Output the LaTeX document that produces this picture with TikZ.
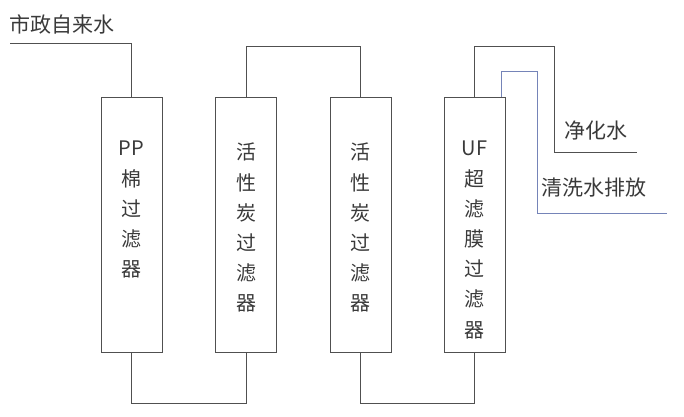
\documentclass[tikz,border=0pt]{standalone}
\usepackage{fontspec}
\setmainfont{Noto Sans CJK SC}
\begin{document}
\begin{tikzpicture}[x=1pt,y=-1pt,
  filterbox/.style={draw=pipegray,line width=0.9pt,minimum width=61pt,minimum height=255pt,inner sep=0pt},
  boxtext/.style={anchor=north,align=center,inner sep=0pt,font=\fontsize{20}{30.2}\selectfont,text=textgray},
  lbl/.style={inner sep=0pt,font=\fontsize{21}{24}\selectfont,text=textgray},
  pipe/.style={draw=pipegray,line width=0.9pt},
  bluepipe/.style={draw=pipeblue,line width=0.9pt}]
\definecolor{pipegray}{HTML}{505050}
\definecolor{pipeblue}{HTML}{7584B8}
\definecolor{textgray}{HTML}{3A3A3A}
\useasboundingbox (0,0) rectangle (684,416);
\node[filterbox] (b1) at (131.5,224.5) {};
\node[filterbox] (b2) at (246,224.5) {};
\node[filterbox] (b3) at (360.5,224.5) {};
\node[filterbox] (b4) at (474.5,224.5) {};
\node[boxtext] (t1) at (131.5,141) {PP\\棉\\过\\滤\\器};
\node[boxtext] (t2) at (246,143) {活\\性\\炭\\过\\滤\\器};
\node[boxtext] (t3) at (360.5,143) {活\\性\\炭\\过\\滤\\器};
\node[boxtext] (t4) at (474.5,141) {UF\\超\\滤\\膜\\过\\滤\\器};
\node[lbl,anchor=west] (l0) at (9,24) {市政自来水};
\node[lbl,anchor=west] (l1) at (564,131) {净化水};
\node[lbl,anchor=west] (l2) at (541,188) {清洗水排放};
\coordinate (in) at (10,43);
\coordinate (pureend) at (637,152);
\coordinate (wasteend) at (667,213);
\coordinate (wastestart) at (501,97);
\draw[pipe] (in) -| (b1.north);
\draw[pipe] (b1.south) -- ++(0,51) -| (b2.south);
\draw[pipe] (b2.north) -- ++(0,-50) -| (b3.north);
\draw[pipe] (b3.south) -- ++(0,51) -| (b4.south);
\draw[pipe] (b4.north) -- ++(0,-50) -| (554,152) -- (pureend);
\draw[bluepipe] (wastestart) -- ++(0,-26) -| (537,213) -- (wasteend);
\end{tikzpicture}
\end{document}
